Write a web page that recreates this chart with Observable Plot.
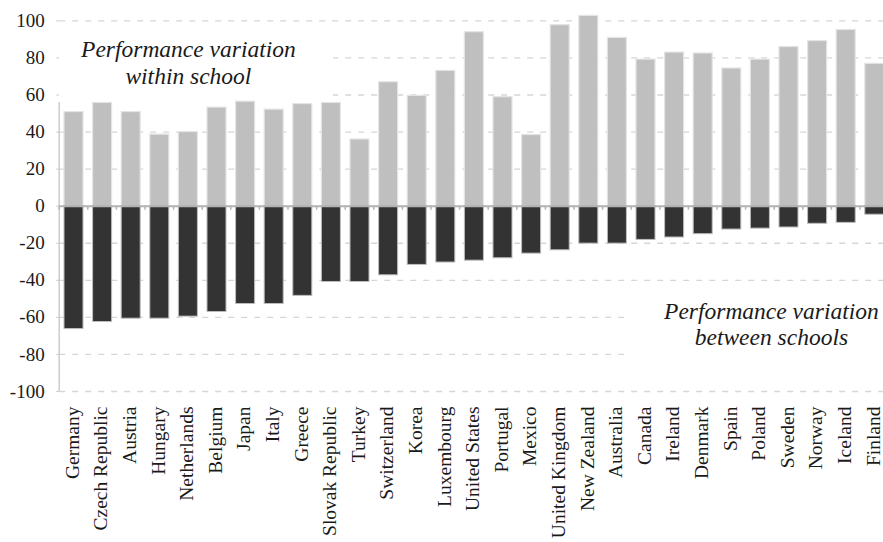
<!DOCTYPE html>
<html><head><meta charset="utf-8">
<script src="https://cdn.jsdelivr.net/npm/d3@7"></script>
<script src="https://cdn.jsdelivr.net/npm/@observablehq/plot@0.6"></script>
<style>
body{margin:0;background:#fff;}
#chart svg{display:block;overflow:hidden;}
#chart svg, #chart svg text{font-family:"Liberation Serif","Times New Roman",serif !important;}
</style>
</head><body><div id="chart"></div>
<script>
const countries = ["Germany","Czech Republic","Austria","Hungary","Netherlands","Belgium","Japan","Italy","Greece","Slovak Republic","Turkey","Switzerland","Korea","Luxembourg","United States","Portugal","Mexico","United Kingdom","New Zealand","Australia","Canada","Ireland","Denmark","Spain","Poland","Sweden","Norway","Iceland","Finland"];
const withinSchool = [50.8,55.7,50.8,38.6,40,53.2,56.4,52.1,55.1,55.7,36,66.9,59.5,73,93.9,58.8,38.4,97.7,102.7,90.8,79.1,82.9,82.4,74.3,79.1,85.9,89.1,95.1,76.8];
const betweenSchools = [-66.3,-62.5,-60.7,-60.7,-59.6,-57.1,-52.8,-52.8,-48.4,-40.9,-40.9,-37.3,-31.7,-30.4,-29.4,-28.1,-25.6,-23.8,-20.2,-20.2,-18.2,-16.9,-15.1,-12.6,-12.1,-11.5,-9.5,-9,-4.6];
const yTicks = [-100,-80,-60,-40,-20,0,20,40,60,80,100];
const labelWithin = "Performance variation\nwithin school";
const labelBetween = "Performance variation\nbetween schools";

const rows = countries.map((c, i) => ({country: c, within: withinSchool[i], between: betweenSchools[i]}));
const PAD = 0.335;
const SERIF = "Liberation Serif";

function geom(x) {
  const step = x(countries[1]) - x(countries[0]);
  return {step, half: step * PAD / 2, bw: step * (1 - PAD)};
}

function boxes(index, scales, values, dims) {
  const {x, y} = scales;
  const {half, bw} = geom(x);
  const g = d3.create("svg:g");
  const left = x(countries[0]) - half;
  g.append("rect").attr("x", left - 6).attr("y", y(95))
    .attr("width", x("Slovak Republic") + 11.5 - (left - 6)).attr("height", y(56) - y(95)).attr("fill", "white");
  const bx = x("Australia") + bw + 0.5;
  g.append("rect").attr("x", bx).attr("y", y(-45))
    .attr("width", dims.width + 20 - bx).attr("height", y(-95) - y(-45)).attr("fill", "white");
  return g.node();
}

function axisLine(index, scales) {
  const {x, y} = scales;
  const {half} = geom(x);
  const left = x(countries[0]) - half;
  const g = d3.create("svg:g");
  g.append("line").attr("x1", left).attr("x2", left).attr("y1", y(-100)).attr("y2", y(56))
    .attr("stroke", "#cccccc").attr("stroke-width", 1.5);
  return g.node();
}

function zeroTicks(index, scales) {
  const {x, y} = scales;
  const {half} = geom(x);
  const g = d3.create("svg:g");
  for (const c of countries) {
    const px = x(c) - half;
    g.append("line").attr("x1", px).attr("x2", px).attr("y1", y(0)).attr("y2", y(0) + 4)
      .attr("stroke", "#b3b3b3").attr("stroke-width", 1.5);
  }
  return g.node();
}

const chart = Plot.plot({
  width: 883,
  height: 542,
  marginTop: 0,
  marginBottom: 151,
  marginLeft: 59.2,
  marginRight: -5.6,
  style: {fontFamily: SERIF, fontSize: "18px", color: "#1a1a1a", background: "white"},
  x: {domain: countries, range: [59.2, 888.6], paddingInner: PAD, paddingOuter: PAD / 2, round: false, label: null},
  y: {domain: [-100, 111], range: [391, 0], label: null},
  marks: [
    Plot.ruleY(yTicks.filter(d => d !== 0), {stroke: "#d6d6d6", strokeWidth: 1.3, strokeDasharray: "6,7"}),
    boxes,
    axisLine,
    Plot.barY(rows, {x: "country", y: "within", fill: "#bfbfbf", stroke: "#e4e4e4", strokeWidth: 1.2}),
    Plot.barY(rows, {x: "country", y: "between", fill: "#333333", stroke: "#bdbdbd", strokeWidth: 1}),
    Plot.ruleY([0], {stroke: "#b3b3b3", strokeWidth: 2}),
    zeroTicks,
    Plot.axisY({ticks: yTicks, tickSize: 3, tickPadding: 12, fontSize: 19, fontFamily: SERIF, stroke: "#cccccc", tickFormat: d => String(d)}),
    Plot.axisX({tickSize: 0, tickPadding: 15, tickRotate: -90, fontSize: 19.5, dx: -1.5, fontFamily: SERIF, anchor: "bottom"}),
    Plot.text([labelWithin], {x: () => "Netherlands", y: () => 78, text: d => d, fontSize: 23.5, fontFamily: SERIF, fontStyle: "italic", lineHeight: 1.17, lineAnchor: "middle", fill: "#1a1a1a"}),
    Plot.text([labelBetween], {x: () => "Poland", dx: 11, y: () => -63.5, text: d => d, fontSize: 23.5, fontFamily: SERIF, fontStyle: "italic", lineHeight: 1.1, lineAnchor: "middle", fill: "#1a1a1a"})
  ]
});
document.getElementById("chart").appendChild(chart);
</script>
</body></html>
